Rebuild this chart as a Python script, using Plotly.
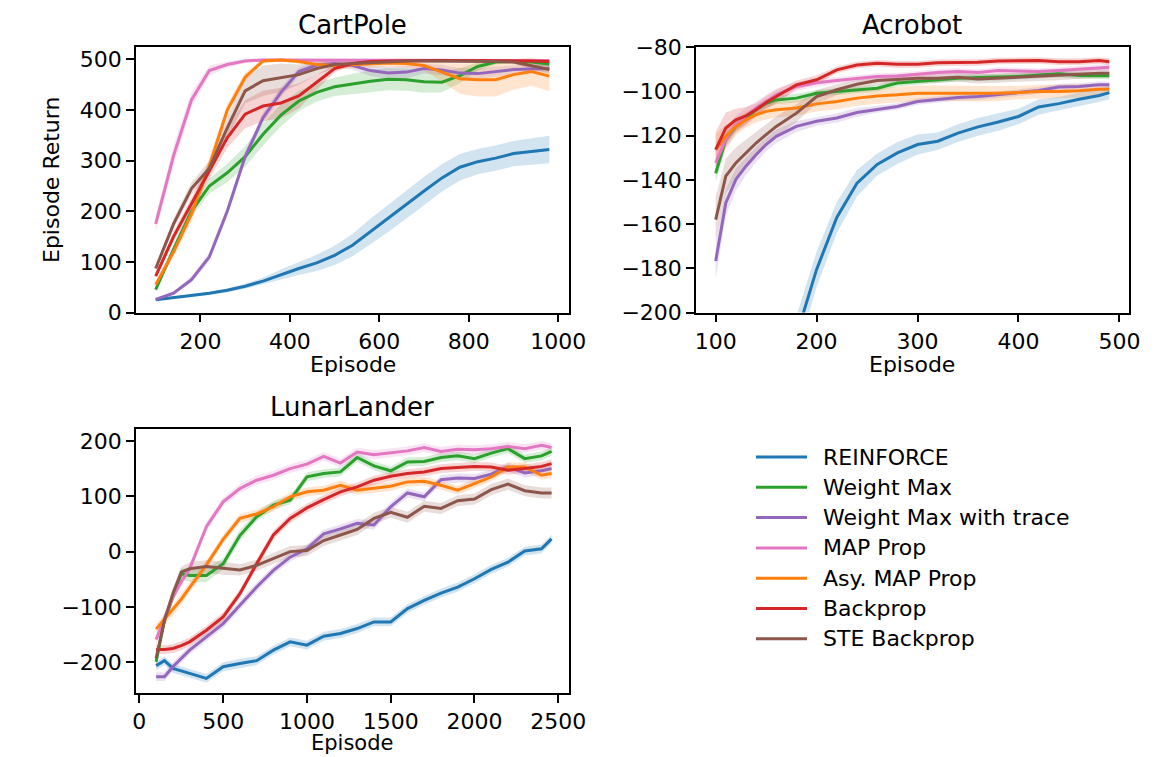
import numpy as np
import plotly.graph_objects as go

# the page body adds an 8px margin, so the figure is 8px smaller and coordinates shift by 8
OFF = 8
W, H = 1175 - OFF, 757 - OFF
FONT = "DejaVu Sans"

methods = ["REINFORCE", "Weight Max", "Weight Max with trace", "MAP Prop",
           "Asy. MAP Prop", "Backprop", "STE Backprop"]
colors = ["#1f77b4", "#2ca02c", "#9467bd", "#e377c2", "#ff7f0e", "#d62728", "#8c564b"]

# ---------------- CartPole ----------------
cp_x = [100, 140, 180, 220, 260, 300, 340, 380, 420, 460, 500, 540, 580, 620,
        660, 700, 740, 780, 820, 860, 900, 940, 980]
cp_reinforce = [25, 29, 33, 38, 44, 52, 62, 75, 87, 98, 113, 133, 160, 186, 213, 240,
                266, 287, 298, 305, 314, 318, 322]
cp_weight_max = [45, 125, 200, 250, 276, 308, 352, 390, 418, 435, 446, 452, 457, 461,
                 460, 456, 455, 468, 486, 495, 497, 495, 491]
cp_wm_trace = [26, 38, 65, 110, 200, 308, 385, 435, 476, 489, 492, 488, 478, 473, 475,
               482, 479, 473, 472, 476, 480, 481, 482]
cp_map_prop = [175, 310, 420, 478, 490, 497, 499, 499, 499, 499, 499, 499, 499, 499,
               499, 499, 499, 499, 499, 499, 499, 499, 498]
cp_asy_map = [55, 120, 195, 290, 400, 465, 497, 499, 496, 490, 488, 490, 492, 493, 492,
              488, 475, 462, 460, 460, 470, 476, 467]
cp_backprop = [72, 150, 215, 280, 345, 392, 408, 414, 428, 455, 482, 492, 496, 497, 498,
               498, 498, 498, 498, 498, 498, 497, 496]
cp_ste = [87, 175, 245, 285, 365, 438, 458, 464, 470, 482, 490, 492, 494, 496, 497, 497,
          497, 497, 497, 496, 495, 488, 480]

cp_reinforce_err = [2, 2, 3, 3, 4, 5, 7, 10, 13, 16, 19, 22, 25, 27, 28, 28, 27, 26, 25, 25, 25, 26, 27]
cp_weight_max_err = [5, 8, 12, 15, 18, 20, 22, 22, 20, 18, 18, 20, 22, 22, 22, 22, 20, 15, 8, 5, 4, 5, 6]
cp_wm_trace_err = [3, 4, 6, 8, 10, 10, 10, 10, 8, 6, 6, 8, 10, 12, 12, 10, 10, 10, 10, 10, 8, 8, 8]
cp_map_prop_err = [15, 20, 15, 10, 6, 4, 3, 2, 2, 2, 2, 2, 2, 2, 2, 2, 2, 2, 2, 2, 2, 2, 2]
cp_asy_map_err = [5, 10, 15, 15, 12, 8, 4, 3, 4, 6, 8, 8, 8, 8, 8, 10, 18, 30, 33, 33, 30, 28, 30]
cp_backprop_err = [5, 10, 12, 15, 20, 28, 30, 30, 25, 15, 8, 4, 3, 2, 2, 2, 2, 2, 2, 2, 2, 3, 4]
cp_ste_err = [5, 10, 12, 15, 20, 25, 30, 28, 20, 12, 8, 5, 4, 3, 3, 3, 3, 3, 3, 3, 4, 6, 8]

# ---------------- Acrobot ----------------
ac_x = [100, 110, 120, 130, 140, 150, 160, 180, 200, 220, 240, 260, 280, 300, 320, 340,
        360, 380, 400, 420, 440, 460, 480, 490]
ac_reinforce = [-480, -420, -370, -330, -295, -265, -240, -210.5, -180.5, -157, -141.5,
                -133, -127.8, -124, -122.5, -118.8, -116, -113.8, -111.3, -107, -105.5,
                -103.5, -101.8, -100.5]
ac_weight_max = [-137, -121.8, -115.8, -112, -108.3, -105.3, -103.8, -103, -100.8, -100,
                 -99.2, -98.5, -96.2, -95.5, -94.7, -94, -93.7, -93.5, -93.2, -92.5, -92,
                 -92.8, -92.9, -92.9]
ac_wm_trace = [-176.7, -150.4, -139.8, -133.8, -128.6, -124, -120.3, -115.8, -113.5, -112,
               -109.5, -108, -106.8, -104.5, -103.5, -102.7, -102.3, -101.5, -100.5, -99.5,
               -98, -97.7, -97, -97]
ac_map_prop = [-132.3, -121.8, -115, -111.3, -107.5, -104.5, -101.5, -97.7, -96, -95, -94,
               -93.2, -93, -92.2, -91.4, -91, -91.4, -90.5, -90.7, -91, -90.5, -90, -89.2, -89]
ac_asy_map = [-126.3, -120.3, -115.8, -112.8, -110.5, -109, -108.3, -107.5, -105.6, -104.5,
              -103, -102, -101.5, -100.8, -100.8, -100.8, -101, -100.8, -100.5, -100, -100,
              -99.7, -99, -99]
ac_backprop = [-126.3, -116.5, -112.8, -111, -108.3, -105, -102.3, -97, -94.7, -90.2, -88,
               -87.2, -87.7, -87.7, -87, -87, -86.8, -86.2, -86, -86, -86.5, -86.5, -86, -86.5]
ac_ste = [-158, -138.3, -132.3, -127.8, -123.3, -119.5, -115.8, -109.8, -102.3, -99.2, -96.7,
          -95, -94.4, -94, -94, -93.5, -94.4, -94, -93.5, -93.2, -92.9, -92.2, -91.7, -91.7]

ac_reinforce_err = [20, 18, 16, 14, 12, 11, 10, 9, 8, 7, 6, 5, 5, 4.5, 4, 4, 4, 4, 3.5, 3.5, 3, 3, 3, 3]
ac_weight_max_err = [4, 3, 2.5, 2, 2, 2, 2, 2, 1.5, 1.5, 1.5, 1.5, 1.5, 1.5, 1.5, 1.5, 1.5, 1.5, 1.5, 1.5, 1.5, 1.5, 1.5, 1.5]
ac_wm_trace_err = [8, 6, 5, 4, 3.5, 3, 3, 2.5, 2, 2, 2, 1.5, 1.5, 1.5, 1.5, 1.5, 1.5, 1.5, 1.5, 1.5, 1.5, 1.5, 1.5, 1.5]
ac_map_prop_err = [6, 5, 4, 4, 3, 3, 3, 2, 2, 1.5, 1.5, 1.5, 1.5, 1.5, 1.5, 1.5, 1.5, 1.5, 1.5, 1.5, 1.5, 1.5, 1.5, 1.5]
ac_asy_map_err = [7, 5, 4, 3.5, 3.5, 3.5, 3.5, 3.5, 3.5, 3.5, 3.5, 3.5, 3.5, 3.5, 3.5, 3.5, 3.5, 3.5, 3, 3, 3, 3, 2.5, 2.5]
ac_backprop_err = [8, 7, 5, 4, 3, 3, 3, 2, 2, 1.5, 1.5, 1.5, 1.5, 1.5, 1.5, 1.5, 1.5, 1.5, 1.5, 1.5, 1.5, 1.5, 1.5, 1.5]
ac_ste_err = [10, 8, 7, 6, 5, 5, 4.5, 4, 3, 2.5, 2, 2, 2, 2, 2, 2, 2, 2, 2, 2, 2, 2, 2, 2]

# ---------------- LunarLander ----------------
ll_x = [100, 150, 200, 250, 300, 400, 500, 600, 700, 800, 900, 1000, 1100, 1200, 1300,
        1400, 1500, 1600, 1700, 1800, 1900, 2000, 2100, 2200, 2300, 2400, 2460]
ll_reinforce = [-206, -197, -211, -215, -220, -229, -208, -202, -197, -178, -163, -169,
                -153, -148, -139, -127, -127, -103, -88, -75, -64, -49, -32, -19, 1, 5, 23]
ll_weight_max = [-199, -124, -82, -40, -43, -43, -22, 29, 63, 84, 93, 135, 141, 144, 170,
                 155, 146, 162, 163, 170, 173, 168, 178, 186, 168, 173, 181]
ll_wm_trace = [-226, -226, -208, -193, -178, -154, -130, -97, -64, -34, -10, 5, 32, 41, 51,
               48, 81, 106, 99, 130, 133, 132, 140, 153, 142, 146, 150]
ll_map_prop = [-159, -120, -82, -55, -31, 45, 90, 114, 129, 138, 150, 158, 172, 160, 180,
               175, 178, 182, 188, 181, 185, 184, 186, 190, 186, 192, 188]
ll_asy_map = [-140, -122, -106, -86, -65, -24, 22, 60, 68, 81, 99, 108, 111, 120, 111, 114,
              118, 126, 127, 120, 111, 123, 135, 153, 153, 138, 141]
ll_backprop = [-177, -177, -175, -170, -163, -142, -118, -76, -22, 30, 60, 79, 94, 108, 117,
               129, 136, 141, 144, 150, 152, 154, 153, 147, 150, 154, 159]
ll_ste = [-193, -124, -76, -37, -31, -27, -30, -33, -25, -12, 0, 2, 20, 30, 40, 60, 71, 62,
          82, 78, 92, 95, 112, 122, 110, 106, 106]

ll_reinforce_err = [8] * 27
ll_weight_max_err = [8, 10, 10, 10, 12, 12, 10, 10, 8, 8, 8, 8, 8, 8, 8, 8, 8, 8, 8, 8, 8, 8, 8, 8, 8, 8, 8]
ll_wm_trace_err = [8] * 27
ll_map_prop_err = [8] * 27
ll_asy_map_err = [8, 10, 10, 10, 10, 8, 8, 8, 8, 8, 8, 8, 8, 8, 8, 8, 8, 8, 8, 8, 8, 8, 8, 8, 8, 8, 8]
ll_backprop_err = [8] * 27
ll_ste_err = [10, 10, 10, 10, 12, 12, 12, 10, 10, 10, 10, 10, 10, 10, 10, 10, 10, 10, 10, 10, 10, 10, 10, 10, 10, 10, 10]

panels = [
    ("x", "y", cp_x,
     [cp_reinforce, cp_weight_max, cp_wm_trace, cp_map_prop, cp_asy_map, cp_backprop, cp_ste],
     [cp_reinforce_err, cp_weight_max_err, cp_wm_trace_err, cp_map_prop_err, cp_asy_map_err,
      cp_backprop_err, cp_ste_err]),
    ("x2", "y2", ac_x,
     [ac_reinforce, ac_weight_max, ac_wm_trace, ac_map_prop, ac_asy_map, ac_backprop, ac_ste],
     [ac_reinforce_err, ac_weight_max_err, ac_wm_trace_err, ac_map_prop_err, ac_asy_map_err,
      ac_backprop_err, ac_ste_err]),
    ("x3", "y3", ll_x,
     [ll_reinforce, ll_weight_max, ll_wm_trace, ll_map_prop, ll_asy_map, ll_backprop, ll_ste],
     [ll_reinforce_err, ll_weight_max_err, ll_wm_trace_err, ll_map_prop_err, ll_asy_map_err,
      ll_backprop_err, ll_ste_err]),
]


def rgba(hexc, a):
    h = hexc.lstrip("#")
    return "rgba(%d,%d,%d,%.2f)" % (int(h[0:2], 16), int(h[2:4], 16), int(h[4:6], 16), a)


fig = go.Figure()
for xa, ya, xs, means, errs in panels:
    xs = np.array(xs, dtype=float)
    for m, e, c in zip(means, errs, colors):
        m = np.array(m, dtype=float)
        e = np.array(e, dtype=float)
        fig.add_trace(go.Scatter(
            x=np.concatenate([xs, xs[::-1]]),
            y=np.concatenate([m + e, (m - e)[::-1]]),
            fill="toself", fillcolor=rgba(c, 0.2), line=dict(width=0),
            mode="lines", hoverinfo="skip", showlegend=False, xaxis=xa, yaxis=ya))
    for name, m, c in zip(methods, means, colors):
        fig.add_trace(go.Scatter(
            x=xs, y=m, mode="lines", name=name, line=dict(color=c, width=3),
            showlegend=False, xaxis=xa, yaxis=ya))


def px(xp):
    return (xp - OFF) / W


def py(yp):
    return 1 - (yp - OFF) / H


axis_common = dict(showline=True, mirror=True, linecolor="black", linewidth=1.5,
                   ticks="outside", ticklen=8, tickwidth=1.5, tickcolor="black",
                   showgrid=False, zeroline=False, automargin=False,
                   tickfont=dict(family=FONT, size=22, color="black"))

fig.update_layout(
    template="none",
    width=W, height=H, autosize=False,
    margin=dict(l=0, r=0, t=0, b=0, pad=0),
    paper_bgcolor="white", plot_bgcolor="white",
    showlegend=False,
    xaxis=dict(axis_common, domain=[px(136), px(569)], range=[56, 1024],
               tickvals=[200, 400, 600, 800, 1000], anchor="y"),
    yaxis=dict(axis_common, domain=[py(312.5), py(47.3)], range=[0, 524],
               tickvals=[0, 100, 200, 300, 400, 500], anchor="x"),
    xaxis2=dict(axis_common, domain=[px(696), px(1129)], range=[80.5, 509.5],
                tickvals=[100, 200, 300, 400, 500], anchor="y2"),
    yaxis2=dict(axis_common, domain=[py(312.5), py(47.3)], range=[-200, -80],
                tickvals=[-200, -180, -160, -140, -120, -100, -80], anchor="x2"),
    xaxis3=dict(axis_common, domain=[px(136), px(569)], range=[-20, 2564],
                tickvals=[0, 500, 1000, 1500, 2000, 2500], anchor="y3"),
    yaxis3=dict(axis_common, domain=[py(693.3), py(429.3)], range=[-256, 221],
                tickvals=[-200, -100, 0, 100, 200], anchor="x3"),
)

annots = [
    ("CartPole", 352.5, 25, 26, 0, "middle"),
    ("Acrobot", 912, 25, 26, 0, "middle"),
    ("LunarLander", 352, 407, 26, 0, "middle"),
    ("Episode", 352.5, 365, 22, 0, "middle"),
    ("Episode", 912, 365, 22, 0, "middle"),
    ("Episode", 352, 757, 21, 0, "bottom"),
    ("Episode Return", 52, 180, 22, -90, "middle"),
]
for text, x, y, size, ang, yanc in annots:
    fig.add_annotation(text=text, x=px(x), y=py(y), xref="paper", yref="paper",
                       xanchor="center", yanchor=yanc, showarrow=False,
                       textangle=ang, font=dict(family=FONT, size=size, color="black"))

# legend (drawn manually to match the long line samples)
leg_y0, leg_dy = 457, 30.3
for i, (name, c) in enumerate(zip(methods, colors)):
    yy = leg_y0 + i * leg_dy
    fig.add_shape(type="line", xref="paper", yref="paper",
                  x0=px(756), x1=px(807), y0=py(yy), y1=py(yy),
                  line=dict(color=c, width=3))
    fig.add_annotation(text=name, x=px(821), y=py(yy), xref="paper", yref="paper",
                       xanchor="left", yanchor="middle", showarrow=False,
                       font=dict(family=FONT, size=22, color="black"))

fig.write_html("out.html")
